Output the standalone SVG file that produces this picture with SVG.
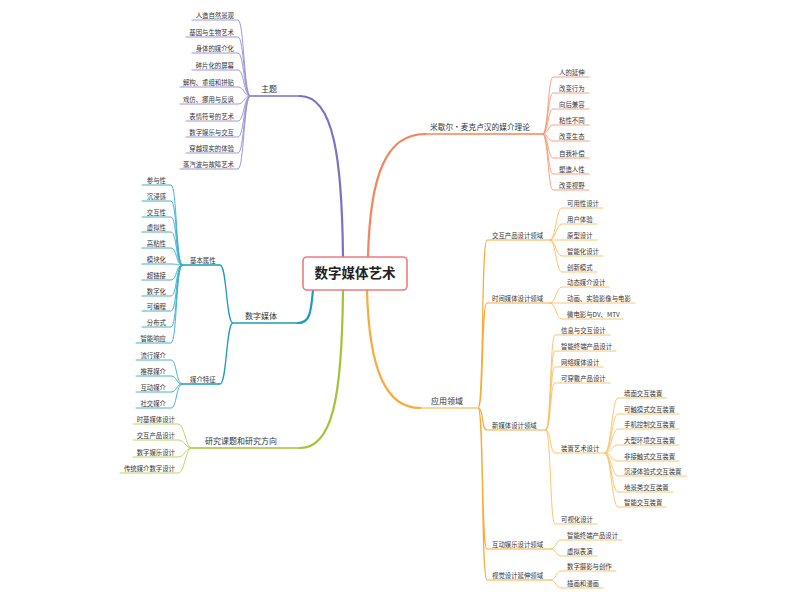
<svg xmlns="http://www.w3.org/2000/svg" width="800" height="600" viewBox="0 0 800 600">
<style>
text{font-family:"Noto Sans CJK SC","Noto Sans",sans-serif;fill:#333}
.s{font-size:6.4px}
.m{font-size:8px}
.c{font-size:13.5px;font-weight:bold;fill:#222}
.e{text-anchor:end}
path{fill:none;stroke-linecap:round}
.pm{stroke:#7b6fc6;stroke-width:2.2}.pu{stroke:#7b6fc6;stroke-width:1.3}.pc{stroke:#938cd6;stroke-width:0.9}
.om{stroke:#f5845a;stroke-width:2.2}.ou{stroke:#f5845a;stroke-width:1.3}.oc{stroke:#f8976f;stroke-width:0.9}
.tm{stroke:#1b9cc0;stroke-width:2.2}.tu{stroke:#1b9cc0;stroke-width:1.3}.tc{stroke:#34aacb;stroke-width:0.9}
.gm{stroke:#a5c236;stroke-width:2.2}.gu{stroke:#a5c236;stroke-width:1.3}.gc{stroke:#b7cf55;stroke-width:0.9}
.am{stroke:#f8ab3a;stroke-width:2.2}.au{stroke:#f8ab3a;stroke-width:1.2}.ac{stroke:#fbbf62;stroke-width:0.9}
</style>
<rect width="800" height="600" fill="#fff"/>
<g id="connectors">
<path class="pm" d="M343,257 C342,160 334,96 300,96"/>
<path class="pu" d="M300,96 L250,96"/>
<path class="pc" d="M250,96 C244,96 244,20 238,20 L192,20 M250,96 C244,96 244,37 238,37 L186,37 M250,96 C244,96 244,53 238,53 L192,53 M250,96 C244,96 244,70 238,70 L192,70 M250,96 C244,96 244,87 238,87 L180,87 M250,96 C244,96 244,104 238,104 L180,104 M250,96 C244,96 244,121 238,121 L186,121 M250,96 C244,96 244,137 238,137 L186,137 M250,96 C244,96 244,153 238,153 L186,153 M250,96 C244,96 244,169 238,169 L180,169"/>
<path class="om" d="M368,257 C370,175 386,134 425,134"/>
<path class="ou" d="M425,134 L543,134"/>
<path class="oc" d="M543,134 C548,134 548,77 553,77 L589,77 M543,134 C548,134 548,93 553,93 L589,93 M543,134 C548,134 548,109 553,109 L589,109 M543,134 C548,134 548,125 553,125 L589,125 M543,134 C548,134 548,141 553,141 L589,141 M543,134 C548,134 548,158 553,158 L589,158 M543,134 C548,134 548,174 553,174 L589,174 M543,134 C548,134 548,190 553,190 L589,190"/>
<path class="tm" d="M313,290 C311,312 310,323 298,323"/>
<path class="tu" d="M298,323 L233,323 M233,323 C226,323 227,265 220,265 L182,265 M233,323 C226,323 227,384 220,384 L182,384"/>
<path class="tc" d="M182,265 C176,265 177,185 171,185 L142,185 M182,265 C176,265 177,201 171,201 L142,201 M182,265 C176,265 177,217 171,217 L142,217 M182,265 C176,265 177,232 171,232 L142,232 M182,265 C176,265 177,248 171,248 L142,248 M182,265 C176,265 177,264 171,264 L142,264 M182,265 C176,265 177,280 171,280 L142,280 M182,265 C176,265 177,296 171,296 L142,296 M182,265 C176,265 177,311 171,311 L142,311 M182,265 C176,265 177,327 171,327 L142,327 M182,265 C176,265 177,343 171,343 L136,343"/>
<path class="tc" d="M182,384 C176,384 177,360 171,360 L136,360 M182,384 C176,384 177,376 171,376 L136,376 M182,384 C176,384 177,392 171,392 L136,392 M182,384 C176,384 177,408 171,408 L136,408"/>
<path class="gm" d="M343,290 C342,400 332,448 300,448"/>
<path class="gu" d="M300,448 L192,448"/>
<path class="gc" d="M192,448 C185,448 185,424 178,424 L133,424 M192,448 C185,448 185,440 178,440 L133,440 M192,448 C185,448 185,457 178,457 L133,457 M192,448 C185,448 185,473 178,473 L120,473"/>
<path class="am" d="M367,290 C369,370 386,408 420,408"/>
<path class="au" d="M420,408 L478,408 M478,408 C484,408 481,240 487,240 L550,240 M478,408 C484,408 481,303 487,303 L550,303 M478,408 C484,408 481,430 487,430 L546,430 M478,408 C484,408 481,549 487,549 L551,549 M478,408 C484,408 481,580 487,580 L551,580"/>
<path class="ac" d="M550,240 C556,240 556,208 562,208 L603,208 M550,240 C556,240 556,224 562,224 L597,224 M550,240 C556,240 556,240 562,240 L597,240 M550,240 C556,240 556,256 562,256 L603,256 M550,240 C556,240 556,272 562,272 L597,272"/>
<path class="ac" d="M550,303 C556,303 556,287 562,287 L609,287 M550,303 L562,303 L635,303 M550,303 C556,303 556,319 562,319 L623,319"/>
<path class="ac" d="M546,430 C551,430 550,335 555,335 L610,335 M546,430 C551,430 550,351 555,351 L616,351 M546,430 C551,430 550,367 555,367 L603,367 M546,430 C551,430 550,383 555,383 L610,383 M546,430 C551,430 550,453 555,453 L605,453 M546,430 C551,430 550,524 555,524 L597,524"/>
<path class="ac" d="M605,453 C611,453 612,398 618,398 L666,398 M605,453 C611,453 612,414 618,414 L679,414 M605,453 C611,453 612,429 618,429 L679,429 M605,453 C611,453 612,445 618,445 L679,445 M605,453 C611,453 612,461 618,461 L679,461 M605,453 C611,453 612,476 618,476 L686,476 M605,453 C611,453 612,492 618,492 L673,492 M605,453 C611,453 612,507 618,507 L666,507"/>
<path class="ac" d="M551,549 C556,549 556,540 561,540 L622,540 M551,549 C556,549 556,556 561,556 L597,556 M551,580 C556,580 556,571 561,571 L616,571 M551,580 C556,580 556,588 561,588 L603,588"/>
</g>
<g id="center">
<rect x="303" y="257" width="104" height="33" rx="4" fill="#fff" stroke="#ee7a7e" stroke-width="1.6"/>
<text class="c" x="355" y="278" text-anchor="middle">数字媒体艺术</text>
</g>
<g id="theme">
<text class="m" x="261" y="91.5">主题</text>
<text class="s e" x="234" y="17.5">人造自然景观</text>
<text class="s e" x="234" y="34.5">基因与生物艺术</text>
<text class="s e" x="234" y="50.5">身体的媒介化</text>
<text class="s e" x="234" y="67.5">碎片化的屏幕</text>
<text class="s e" x="234" y="84.5">解构、重组和拼贴</text>
<text class="s e" x="234" y="101.5">戏仿、挪用与反讽</text>
<text class="s e" x="234" y="118.5">表情符号的艺术</text>
<text class="s e" x="234" y="134.5">数字娱乐与交互</text>
<text class="s e" x="234" y="150.5">穿越现实的体验</text>
<text class="s e" x="234" y="166.5">蒸汽波与故障艺术</text>
</g>
<g id="mcluhan">
<text class="m" x="430" y="129.5" textLength="100" lengthAdjust="spacingAndGlyphs">米歇尔·麦克卢汉的媒介理论</text>
<text class="s" x="559" y="74.5">人的延伸</text>
<text class="s" x="559" y="90.5">改变行为</text>
<text class="s" x="559" y="106.5">向后兼容</text>
<text class="s" x="559" y="122.5">粘性不同</text>
<text class="s" x="559" y="138.5">改变生态</text>
<text class="s" x="559" y="155.5">自我补偿</text>
<text class="s" x="559" y="171.5">塑造人性</text>
<text class="s" x="559" y="187.5">改变视野</text>
</g>
<g id="digital-media">
<text class="m" x="245" y="318.5">数字媒体</text>
<g id="basic-attributes">
<text class="s" x="190" y="262.5">基本属性</text>
<text class="s e" x="166" y="182.5">参与性</text>
<text class="s e" x="166" y="198.5">沉浸感</text>
<text class="s e" x="166" y="214.5">交互性</text>
<text class="s e" x="166" y="229.5">虚拟性</text>
<text class="s e" x="166" y="245.5">高粘性</text>
<text class="s e" x="166" y="261.5">模块化</text>
<text class="s e" x="166" y="277.5">超链接</text>
<text class="s e" x="166" y="293.5">数字化</text>
<text class="s e" x="166" y="308.5">可编程</text>
<text class="s e" x="166" y="324.5">分布式</text>
<text class="s e" x="166" y="340.5">智能响应</text>
</g>
<g id="media-features">
<text class="s" x="190" y="381.5">媒介特征</text>
<text class="s e" x="166" y="357.5">流行媒介</text>
<text class="s e" x="166" y="373.5">推荐媒介</text>
<text class="s e" x="166" y="389.5">互动媒介</text>
<text class="s e" x="166" y="405.5">社交媒介</text>
</g>
</g>
<g id="research">
<text class="m" x="205" y="443.5">研究课题和研究方向</text>
<text class="s e" x="175" y="421.5">时基媒体设计</text>
<text class="s e" x="175" y="437.5">交互产品设计</text>
<text class="s e" x="175" y="454.5">数字娱乐设计</text>
<text class="s e" x="175" y="470.5">传统媒介数字设计</text>
</g>
<g id="applications">
<text class="m" x="431" y="403.5">应用领域</text>
<g id="interaction-product">
<text class="s" x="492" y="237.5">交互产品设计领域</text>
<text class="s" x="567" y="205.5">可用性设计</text>
<text class="s" x="567" y="221.5">用户体验</text>
<text class="s" x="567" y="237.5">原型设计</text>
<text class="s" x="567" y="253.5">智能化设计</text>
<text class="s" x="567" y="269.5">创新模式</text>
</g>
<g id="time-media">
<text class="s" x="492" y="300.5">时间媒体设计领域</text>
<text class="s" x="567" y="284.5">动态媒介设计</text>
<text class="s" x="567" y="300.5">动画、实验影像与电影</text>
<text class="s" x="567" y="316.5">微电影与DV、MTV</text>
</g>
<g id="new-media">
<text class="s" x="492" y="427.5">新媒体设计领域</text>
<text class="s" x="561" y="332.5">信息与交互设计</text>
<text class="s" x="561" y="348.5">智能终端产品设计</text>
<text class="s" x="561" y="364.5">网络媒体设计</text>
<text class="s" x="561" y="380.5">可穿戴产品设计</text>
<text class="s" x="561" y="450.5">装置艺术设计</text>
<text class="s" x="561" y="521.5">可视化设计</text>
</g>
<g id="installation">
<text class="s" x="624" y="395.5">墙面交互装置</text>
<text class="s" x="624" y="411.5">可触摸式交互装置</text>
<text class="s" x="624" y="426.5">手机控制交互装置</text>
<text class="s" x="624" y="442.5">大型环境交互装置</text>
<text class="s" x="624" y="458.5">非接触式交互装置</text>
<text class="s" x="624" y="473.5">沉浸体验式交互装置</text>
<text class="s" x="624" y="489.5">地景类交互装置</text>
<text class="s" x="624" y="504.5">智能交互装置</text>
</g>
<g id="entertainment">
<text class="s" x="492" y="546.5">互动娱乐设计领域</text>
<text class="s" x="567" y="537.5">智能终端产品设计</text>
<text class="s" x="567" y="553.5">虚拟表演</text>
</g>
<g id="visual">
<text class="s" x="492" y="577.5">视觉设计延伸领域</text>
<text class="s" x="567" y="568.5">数字摄影与创作</text>
<text class="s" x="567" y="585.5">插画和漫画</text>
</g>
</g>
</svg>
